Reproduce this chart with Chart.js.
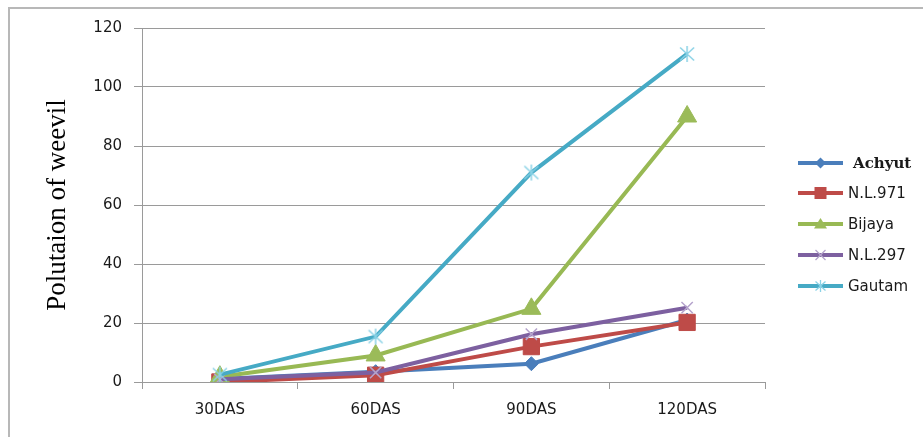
<!DOCTYPE html>
<html>
<head>
<meta charset="utf-8">
<script src="https://cdn.jsdelivr.net/npm/chart.js@4/dist/chart.umd.min.js"></script>
<style>
  html, body { margin: 0; padding: 0; background: #fff; overflow: hidden; }
  canvas { display: block; }
</style>
</head>
<body>
<canvas id="c" width="923" height="437"></canvas>
<script>
// Weevil population counts per variety at each sampling date
const stages  = ['30DAS', '60DAS', '90DAS', '120DAS'];
const achyut  = [1, 3.5, 6.2, 21];
const nl971   = [0, 2.3, 12, 20.2];
const bijaya  = [1.8, 9, 24.8, 90];
const nl297   = [0.9, 3.2, 16.2, 25.2];
const gautam  = [2.5, 15.4, 71, 111.2];
const yTicks  = [0, 20, 40, 60, 80, 100, 120];

// Asterisk marker (vertical bar plus an X)
function asterisk(color, size) {
  const cv = document.createElement('canvas');
  cv.width = size; cv.height = size;
  const g = cv.getContext('2d');
  const h = size / 2;
  g.strokeStyle = color; g.lineWidth = 1.5;
  g.beginPath();
  g.moveTo(h, 1); g.lineTo(h, size - 1);
  g.moveTo(2, 2.5); g.lineTo(size - 2, size - 2.5);
  g.moveTo(size - 2, 2.5); g.lineTo(2, size - 2.5);
  g.stroke();
  return cv;
}

const series = [
  { label: 'Achyut',  data: achyut, color: '#4a7ebb', style: 'rectRot',  radius: 7,    pFill: '#4a7ebb', pLine: '#4a7ebb', pw: 1 },
  { label: 'N.L.971', data: nl971,  color: '#be4b48', style: 'rect',     radius: 11.5, pFill: '#be4b48', pLine: '#be4b48', pw: 1 },
  { label: 'Bijaya',  data: bijaya, color: '#98b954', style: 'triangle', radius: 11,   pFill: '#9bbb59', pLine: '#9bbb59', pw: 1 },
  { label: 'N.L.297', data: nl297,  color: '#7d60a0', style: 'crossRot', radius: 8,    pFill: '#b5a3cc', pLine: '#b5a3cc', pw: 1.5 },
  { label: 'Gautam',  data: gautam, color: '#46aac5', style: asterisk('#8ad2e6', 18), radius: 9, pFill: '#8ad2e6', pLine: '#8ad2e6', pw: 1.5 }
];

// Open frame along the top and left edges of the chart
const outerFrame = {
  id: 'outerFrame',
  beforeDraw(chart) {
    const ctx = chart.ctx;
    ctx.save();
    ctx.strokeStyle = '#b8b8b8'; ctx.lineWidth = 2;
    ctx.beginPath();
    ctx.moveTo(9, chart.height); ctx.lineTo(9, 8); ctx.lineTo(chart.width, 8);
    ctx.stroke();
    ctx.restore();
  }
};

// Legend drawn to the right of the plot: line segment with its marker
const sideLegend = {
  id: 'sideLegend',
  afterDraw(chart) {
    const ctx = chart.ctx;
    const x0 = 798, x1 = 843, ys = [163, 193, 224, 255, 286];
    series.forEach((s, i) => {
      const y = ys[i], cx = (x0 + x1) / 2;
      ctx.save();
      ctx.strokeStyle = s.color; ctx.lineWidth = 4; ctx.lineCap = 'butt';
      ctx.beginPath(); ctx.moveTo(x0, y); ctx.lineTo(x1, y); ctx.stroke();
      ctx.fillStyle = s.pFill; ctx.strokeStyle = s.pLine; ctx.lineWidth = 1.3;
      ctx.beginPath();
      if (i === 0) {
        ctx.moveTo(cx, y - 5.5); ctx.lineTo(cx + 5.5, y); ctx.lineTo(cx, y + 5.5); ctx.lineTo(cx - 5.5, y);
        ctx.closePath(); ctx.fill();
      } else if (i === 1) {
        ctx.rect(cx - 6, y - 6, 12, 12); ctx.fill();
      } else if (i === 2) {
        ctx.moveTo(cx, y - 6); ctx.lineTo(cx + 6.5, y + 4.5); ctx.lineTo(cx - 6.5, y + 4.5);
        ctx.closePath(); ctx.fill();
      } else if (i === 3) {
        ctx.moveTo(cx - 5, y - 5); ctx.lineTo(cx + 5, y + 5);
        ctx.moveTo(cx + 5, y - 5); ctx.lineTo(cx - 5, y + 5); ctx.stroke();
      } else {
        ctx.moveTo(cx, y - 6); ctx.lineTo(cx, y + 6);
        ctx.moveTo(cx - 5, y - 4.5); ctx.lineTo(cx + 5, y + 4.5);
        ctx.moveTo(cx + 5, y - 4.5); ctx.lineTo(cx - 5, y + 4.5); ctx.stroke();
      }
      ctx.fillStyle = '#1a1a1a';
      ctx.textBaseline = 'middle'; ctx.textAlign = 'left';
      if (i === 0) {
        ctx.font = 'bold 15px "DejaVu Serif"';
        ctx.fillText(s.label, 853, y + 1);
      } else {
        ctx.font = '15px "DejaVu Sans"';
        ctx.fillText(s.label, 848, y + 1);
      }
      ctx.restore();
    });
  }
};

new Chart(document.getElementById('c'), {
  type: 'line',
  data: {
    labels: stages,
    datasets: series.map((s, i) => ({
      label: s.label,
      data: s.data,
      borderColor: s.color,
      borderWidth: 4,
      tension: 0,
      fill: false,
      pointStyle: s.style,
      pointRadius: s.radius,
      pointBackgroundColor: s.pFill,
      pointBorderColor: s.pLine,
      pointBorderWidth: s.pw,
      order: series.length - i
    }))
  },
  options: {
    responsive: false,
    animation: false,
    events: [],
    layout: { padding: { left: 40, top: 28, right: 158, bottom: 6 } },
    plugins: { legend: { display: false }, tooltip: { enabled: false } },
    scales: {
      x: {
        offset: true,
        grid: { offset: true, drawOnChartArea: false, drawTicks: true, tickLength: 7, color: '#9a9a9a', lineWidth: 1 },
        border: { color: '#9a9a9a', width: 1 },
        ticks: { padding: 12, color: '#1a1a1a', font: { family: 'DejaVu Sans', size: 15 } }
      },
      y: {
        min: 0, max: 120,
        afterFit(scale) { scale.width = 102; },
        afterBuildTicks(scale) { scale.ticks = yTicks.map(v => ({ value: v })); },
        grid: { color: '#9a9a9a', lineWidth: 1, tickLength: 8 },
        border: { color: '#9a9a9a', width: 1 },
        ticks: { padding: 12, color: '#1a1a1a', font: { family: 'DejaVu Sans', size: 15 } },
        title: {
          display: true,
          text: 'Polutaion of weevil',
          color: '#000',
          padding: { top: 2, bottom: 0 },
          font: { family: 'Liberation Serif', size: 27 }
        }
      }
    }
  },
  plugins: [outerFrame, sideLegend]
});
</script>
</body>
</html>
